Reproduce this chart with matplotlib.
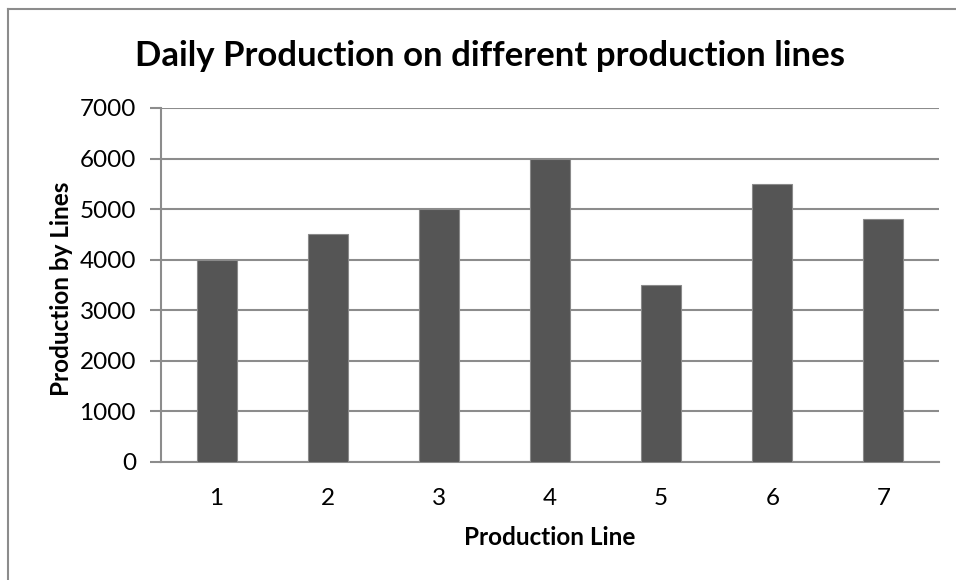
import matplotlib.pyplot as plt
from matplotlib.lines import Line2D

plt.rcParams['font.family'] = ['Lato', 'DejaVu Sans']

lines = ['1', '2', '3', '4', '5', '6', '7']
production = [4000, 4500, 5000, 6000, 3500, 5500, 4800]
y_ticks = [0, 1000, 2000, 3000, 4000, 5000, 6000, 7000]

fig = plt.figure(figsize=(9.56, 5.8), dpi=100)
ax = fig.add_axes([161 / 956, 1 - 462 / 580, 778 / 956, 354 / 580])

x = range(len(lines))
ax.bar(x, production, width=0.36, color='#555555', edgecolor='#8a8a8a',
       linewidth=0.8, zorder=3)

ax.set_xlim(-0.5, len(lines) - 0.5)
ax.set_ylim(0, 7000)
ax.set_xticks(list(x))
ax.set_xticklabels(lines)
ax.set_yticks(y_ticks)
ax.yaxis.grid(True, color='#8c8c8c', linewidth=1.5, zorder=0)

for side in ['top', 'right']:
    ax.spines[side].set_visible(False)
ax.spines['left'].set_color('#8c8c8c')
ax.spines['left'].set_linewidth(1.5)
ax.spines['bottom'].set_color('#8c8c8c')
ax.spines['bottom'].set_linewidth(1.5)
ax.tick_params(axis='y', length=8, width=1.5, color='#8c8c8c', pad=10,
               labelsize=17.5)
ax.tick_params(axis='x', length=0, pad=19, labelsize=17.5)

ax.set_xlabel('Production Line', fontsize=17.5, fontweight='bold')
ax.set_ylabel('Production by Lines', fontsize=17.5, fontweight='bold')
ax.xaxis.set_label_coords(0.5, -0.18)
ax.yaxis.set_label_coords(-0.113, 0.49)
fig.text(490 / 956, 1 - 56 / 580, 'Daily Production on different production lines',
         ha='center', va='center', fontsize=25, fontweight='bold')

# outer chart frame (only top and left edges are visible)
fig.add_artist(Line2D([8 / 956, 1.0], [1 - 9 / 580, 1 - 9 / 580],
                      transform=fig.transFigure, color='#8c8c8c', linewidth=1.5))
fig.add_artist(Line2D([8 / 956, 8 / 956], [0.0, 1 - 9 / 580],
                      transform=fig.transFigure, color='#8c8c8c', linewidth=1.5))

fig.savefig('out.png', dpi=100)
